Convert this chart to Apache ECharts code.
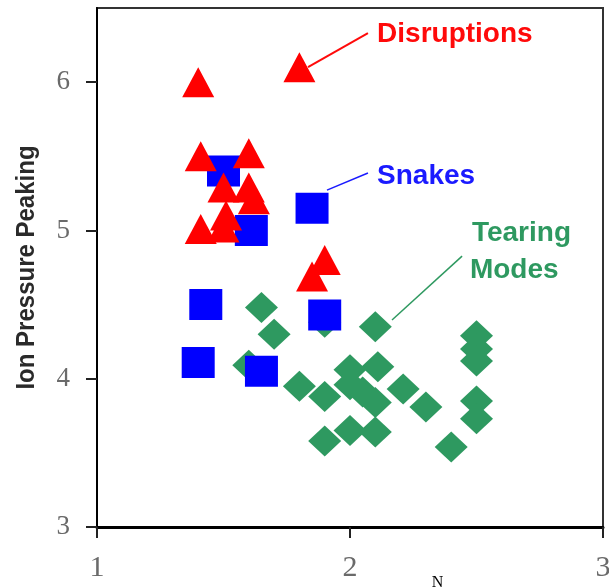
<!DOCTYPE html>
<html><head><meta charset="utf-8">
<script src="https://cdn.jsdelivr.net/npm/echarts@6/dist/echarts.min.js"></script>
<style>html,body{margin:0;padding:0;background:#fff}#c{width:609px;height:588px}</style>
</head><body><div id="c"></div>
<script>
const xTicks = [1, 2, 3];
const yTicks = [3, 4, 5, 6];
const tearingModes = [
  [1.65, 4.48], [1.70, 4.30], [1.60, 4.09], [1.90, 4.38], [2.10, 4.35],
  [1.80, 3.95], [1.90, 3.88], [1.90, 3.58], [2.00, 3.65], [2.10, 3.64],
  [2.00, 4.06], [2.11, 4.08], [2.00, 3.96], [2.05, 3.91], [2.10, 3.84],
  [2.21, 3.93], [2.30, 3.81], [2.40, 3.54], [2.50, 4.29], [2.50, 4.20],
  [2.50, 4.12], [2.50, 3.85], [2.50, 3.73]
];
const snakes = [
  [1.50, 5.40], [1.61, 5.00], [1.85, 5.15], [1.43, 4.50], [1.40, 4.11],
  [1.65, 4.05], [1.90, 4.43]
];
const disruptions = [
  [1.40, 6.00], [1.80, 6.10], [1.41, 5.50], [1.60, 5.52], [1.50, 5.29],
  [1.60, 5.29], [1.62, 5.21], [1.51, 5.10], [1.41, 5.01], [1.50, 5.02],
  [1.90, 4.80], [1.85, 4.69]
];
// annotation anchors in data space
const annotations = [
  {text: 'Disruptions', color: '#ff0a0a', at: [2.107, 6.325], line: [[2.071, 6.331], [1.834, 6.102]], lw: 2},
  {text: 'Snakes', color: '#1a1aff', at: [2.107, 5.368], line: [[2.071, 5.387], [1.909, 5.272]], lw: 1.5},
  {text: 'Tearing', color: '#2e9960', at: [2.482, 4.982], line: [[2.443, 4.827], [2.166, 4.396]], lw: 1.5},
  {text: 'Modes', color: '#2e9960', at: [2.474, 4.733], line: null}
];

const chart = echarts.init(document.getElementById('c'), null, {renderer: 'canvas'});
const option = {
  animation: false,
  backgroundColor: '#fff',
  grid: {left: 97, right: 6, top: 8, bottom: 61, outerBoundsMode: 'none', containLabel: false,
    show: true, borderColor: '#333', borderWidth: 2, backgroundColor: 'transparent'},
  xAxis: {
    type: 'value', min: 1, max: 3, interval: 1,
    axisLine: {show: true, lineStyle: {color: '#000', width: 3}},
    axisTick: {show: true, inside: false, length: 11, lineStyle: {color: '#222', width: 2}, customValues: xTicks},
    axisLabel: {show: true, margin: 26, color: '#6a6a6a', fontFamily: 'Liberation Serif', fontSize: 30, customValues: xTicks},
    splitLine: {show: false}
  },
  yAxis: {
    type: 'value', min: 3, max: 6.5, interval: 1,
    axisLine: {show: true, lineStyle: {color: '#000', width: 2}},
    axisTick: {show: true, inside: false, length: 11, lineStyle: {color: '#222', width: 2}, customValues: yTicks},
    axisLabel: {show: true, margin: 27, color: '#6a6a6a', fontFamily: 'Liberation Serif', fontSize: 27, customValues: yTicks},
    splitLine: {show: false}
  },
  series: [
    {type: 'scatter', name: 'Tearing Modes', data: tearingModes, symbol: 'diamond', symbolSize: [33, 31], itemStyle: {color: '#2e9960', opacity: 1}},
    {type: 'scatter', name: 'Snakes', data: snakes, symbol: 'rect', symbolSize: [33, 31], itemStyle: {color: '#0000ff', opacity: 1}},
    {type: 'scatter', name: 'Disruptions', data: disruptions, symbol: 'triangle', symbolSize: [32, 30], itemStyle: {color: '#ff0000', opacity: 1}}
  ]
};
chart.setOption(option);

const g = [];
annotations.forEach(a => {
  const p = chart.convertToPixel({gridIndex: 0}, a.at);
  g.push({type: 'text', x: p[0], y: p[1], z: 100,
    style: {text: a.text, fill: a.color, font: 'bold 28px "Liberation Sans", Arial, sans-serif', textAlign: 'left', textVerticalAlign: 'middle', verticalAlign: 'middle'}});
  if (a.line) {
    const p1 = chart.convertToPixel({gridIndex: 0}, a.line[0]);
    const p2 = chart.convertToPixel({gridIndex: 0}, a.line[1]);
    g.push({type: 'line', z: 100, shape: {x1: p1[0], y1: p1[1], x2: p2[0], y2: p2[1]}, style: {stroke: a.color, lineWidth: a.lw}});
  }
});
// axis titles
const mid = chart.convertToPixel({gridIndex: 0}, [1, 4.75]);
g.push({type: 'text', x: 27, y: mid[1], rotation: Math.PI / 2, scaleY: 1.06, z: 100,
  style: {text: 'Ion Pressure Peaking', fill: '#2a2a2a', font: 'bold 24px "Liberation Sans", Arial, sans-serif', textAlign: 'center', textVerticalAlign: 'middle', verticalAlign: 'middle'}});
const nPos = chart.convertToPixel({gridIndex: 0}, [2.346, 3]);
g.push({type: 'text', x: nPos[0], y: nPos[1] + 56, z: 100,
  style: {text: 'N', fill: '#000', font: '16px "Liberation Serif", serif', textAlign: 'center', textVerticalAlign: 'middle', verticalAlign: 'middle'}});
chart.setOption({graphic: g});
</script>
</body></html>
